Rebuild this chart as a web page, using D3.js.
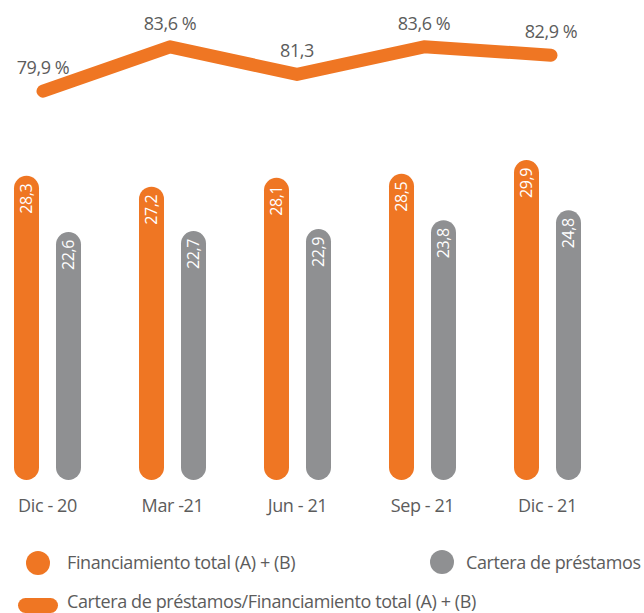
<!DOCTYPE html>
<html lang="es">
<meta charset="utf-8">
<head>
  <script src="https://d3js.org/d3.v7.min.js"></script>
  <style>
    body { margin: 0; background: #fff; }
    text { font-family: "Open Sans", sans-serif; }
  </style>
</head>
<body>
  <div id="chart"></div>
  <script>
    // data
    var periods = ["Dic - 20", "Mar -21", "Jun - 21", "Sep - 21", "Dic - 21"];
    var financiamiento = [28.3, 27.2, 28.1, 28.5, 29.9];
    var cartera = [22.6, 22.7, 22.9, 23.8, 24.8];
    var ratio = [79.9, 83.6, 81.3, 83.6, 82.9];
    var ratioLabels = ["79,9 %", "83,6 %", "81,3", "83,6 %", "82,9 %"];
    var legendItems = ["Financiamiento total (A) + (B)", "Cartera de préstamos",
      "Cartera de préstamos/Financiamiento total (A) + (B)"];

    var orange = "#ef7623", grey = "#8f9092", textGrey = "#5c5c5c";
    var fmt = function (v) { return d3.format(".1f")(v).replace(".", ","); };

    var width = 644, height = 613;
    var svg = d3.select("#chart").append("svg")
      .attr("width", width).attr("height", height);

    // scales
    var x = d3.scaleBand().domain(periods).range([-15, 610]);
    var xSub = d3.scalePoint().domain(["fin", "cart"]).range([-21, 21]);
    var barW = 25;
    var y = d3.scaleLinear().domain([0, 30]).range([455, 159]);
    var barBottom = y(0) + barW;
    var yLine = d3.scaleLinear().domain([78, 86]).range([114, 18]);
    var xLine = d3.scalePoint().domain(periods).range([43, 551]);

    var series = [
      { key: "fin", values: financiamiento, color: orange },
      { key: "cart", values: cartera, color: grey }
    ];

    // bars
    series.forEach(function (s) {
      var g = svg.append("g");
      var cx = function (d, i) { return x(periods[i]) + x.bandwidth() / 2 + xSub(s.key); };
      g.selectAll("rect").data(s.values).enter().append("rect")
        .attr("x", function (d, i) { return cx(d, i) - barW / 2; })
        .attr("y", function (d) { return y(d); })
        .attr("width", barW)
        .attr("height", function (d) { return barBottom - y(d); })
        .attr("rx", barW / 2)
        .attr("fill", s.color);

      g.selectAll("text").data(s.values).enter().append("text")
        .attr("transform", function (d, i) {
          return "translate(" + cx(d, i) + "," + (y(d) + 8) + ") rotate(-90)";
        })
        .attr("text-anchor", "end")
        .attr("dy", "0.36em")
        .attr("fill", "#fff")
        .style("font-size", "16px")
        .style("letter-spacing", "-0.4px")
        .text(fmt);
    });

    // x labels
    svg.append("g").selectAll("text").data(periods).enter().append("text")
      .attr("x", function (d) { return x(d) + x.bandwidth() / 2; })
      .attr("y", 512)
      .attr("text-anchor", "middle")
      .attr("fill", textGrey)
      .style("font-size", "18px")
      .style("letter-spacing", "-0.4px")
      .text(function (d) { return d; });

    // ratio line
    var line = d3.line()
      .x(function (d, i) { return xLine(periods[i]); })
      .y(function (d) { return yLine(d); });

    svg.append("path")
      .datum(ratio)
      .attr("d", line)
      .attr("fill", "none")
      .attr("stroke", orange)
      .attr("stroke-width", 13)
      .attr("stroke-linecap", "round")
      .attr("stroke-linejoin", "round");

    svg.append("g").selectAll("text").data(ratio).enter().append("text")
      .attr("x", function (d, i) { return xLine(periods[i]); })
      .attr("y", function (d) { return yLine(d) - 17; })
      .attr("text-anchor", "middle")
      .attr("fill", textGrey)
      .style("font-size", "18px")
      .style("letter-spacing", "-0.4px")
      .text(function (d, i) { return ratioLabels[i]; });

    // legend
    var legend = svg.append("g").attr("fill", textGrey)
      .style("font-size", "18px").style("letter-spacing", "-0.4px");

    legend.append("circle").attr("cx", 38).attr("cy", 563).attr("r", 12).attr("fill", orange);
    legend.append("text").attr("x", 67).attr("y", 569).text(legendItems[0]);

    legend.append("circle").attr("cx", 442).attr("cy", 562).attr("r", 12).attr("fill", grey);
    legend.append("text").attr("x", 466).attr("y", 569).text(legendItems[1]);

    legend.append("rect").attr("x", 18).attr("y", 598).attr("width", 40).attr("height", 15)
      .attr("rx", 7.5).attr("fill", orange);
    legend.append("text").attr("x", 67).attr("y", 608).text(legendItems[2]);
  </script>
</body>
</html>
